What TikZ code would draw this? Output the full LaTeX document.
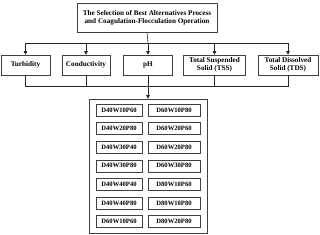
\documentclass[tikz,border=0pt]{standalone}
\usepackage{fontspec}
\setmainfont{Liberation Serif}
\usetikzlibrary{arrows.meta}
\begin{document}
\begin{tikzpicture}[x=1pt,y=-1pt,
  box/.style={draw=black!75, line width=0.6pt, rectangle, inner sep=0pt, align=center, font=\fontsize{7.2}{8.4}\selectfont\bfseries},
  small/.style={draw=black!75, line width=0.6pt, rectangle, inner sep=0pt, minimum height=12pt, font=\fontsize{6.6}{7.6}\selectfont\bfseries},
  conn/.style={line width=0.6pt, black!85},
  arr/.style={conn, -{Triangle[length=3.5pt,width=3.5pt]}}]
\useasboundingbox (0,0) rectangle (320,234);
\node[box, minimum width=140pt, minimum height=29pt] (top) at (147,17.5) {The Selection of Best Alternatives Process\\and Coagulation-Flocculation Operation};
\node[box, minimum width=49pt, minimum height=20pt] (tur) at (25.5,65) {Turbidity};
\node[box, minimum width=48pt, minimum height=20pt] (con) at (86,65) {Conductivity};
\node[box, minimum width=49pt, minimum height=20pt] (ph) at (148,65) {pH};
\node[box, minimum width=62pt, minimum height=20pt] (tss) at (214.5,65) {Total Suspended\\Solid (TSS)};
\node[box, minimum width=60pt, minimum height=20pt] (tds) at (288,65) {Total Dissolved\\Solid (TDS)};
\node[draw=black!75, line width=0.6pt, minimum width=118pt, minimum height=134pt, inner sep=0pt] (big) at (148,166) {};
\coordinate (j0) at (148,43);
\coordinate (jl) at (25.5,43);
\coordinate (jc) at (86,43);
\coordinate (js) at (214.5,43);
\coordinate (jr) at (288,43);
\coordinate (bl) at (25.5,86);
\coordinate (br) at (288,86);
\draw[conn] (top.south) -- (j0);
\draw[conn] (jl) -- (jr);
\draw[arr] (jl) -- (tur.north);
\draw[arr] (jc) -- (con.north);
\draw[arr] (j0) -- (ph.north);
\draw[arr] (js) -- (tss.north);
\draw[arr] (jr) -- (tds.north);
\draw[conn] (tur.south) -- (bl) -- (br) -- (tds.south);
\draw[conn] (con.south) -- (con.south |- bl);
\draw[conn] (tss.south) -- (tss.south |- bl);
\draw[arr] (ph.south) -- (big.north);
\foreach \l/\r [count=\i from 0] in {D40W10P60/D60W10P80, D40W20P80/D60W20P60, D40W30P40/D60W20P80, D40W30P80/D60W30P80, D40W40P40/D80W10P60, D40W40P80/D80W10P80, D60W10P60/D80W20P80}{
  \node[small, minimum width=46pt] (l\i) at (119,110+18.6*\i) {\l};
  \node[small, minimum width=52pt] (r\i) at (174,110+18.6*\i) {\r};
}
\end{tikzpicture}
\end{document}
